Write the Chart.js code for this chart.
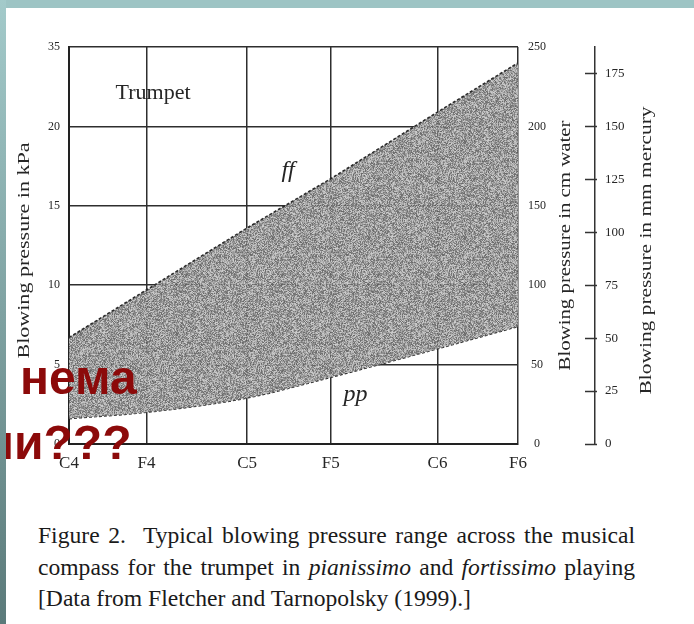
<!DOCTYPE html>
<html>
<head>
<meta charset="utf-8">
<script src="https://cdn.jsdelivr.net/npm/chart.js@4.4.1/dist/chart.umd.min.js"></script>
<style>
  html, body { margin: 0; padding: 0; background: #fff; }
  body { width: 694px; height: 624px; position: relative; overflow: hidden; }
  #wrap { position: absolute; left: 0; top: 0; width: 694px; height: 480px; }
  .topbar { position: absolute; left: 0; top: 0; width: 694px; height: 8px; background: #9dc4c4; }
  .leftbar { position: absolute; left: 0; top: 0; width: 6px; height: 624px; background: linear-gradient(#a3caca, #5b7a7a); }
  .cap { position: absolute; left: 38px; font-family: "Liberation Serif", serif; font-size: 23.6px; line-height: 24px; color: #1a1a1a; white-space: nowrap; }
  .red { position: absolute; font-family: "Liberation Sans", Arial, sans-serif; font-weight: bold; font-size: 48px; line-height: 48px; color: #8c0a0a; white-space: nowrap; }
</style>
</head>
<body>
<div id="wrap"><canvas id="grafico" width="694" height="480"></canvas></div>
<div class="cap just" style="top:523px">Figure 2.&nbsp; Typical blowing pressure range across the musical</div>
<div class="cap just" style="top:555px">compass for the trumpet in <i>pianissimo</i> and <i>fortissimo</i> playing</div>
<div class="cap" style="top:586px">[Data from Fletcher and Tarnopolsky (1999).]</div>
<div class="red" style="left:20px; top:354px">нема</div>
<div class="red" style="left:-15px; top:419px">ни???</div>
<div class="topbar"></div>
<div class="leftbar"></div>

<script>
// notas (posição em semitons acima de C4)
const noteNames = ['C4', 'F4', 'C5', 'F5', 'C6', 'F6'];
const notePos = [0, 5, 11.5, 16.9, 23.8, 29];

// pressão em kPa
const ffKPa = [6.7, 9.7, 13.6, 16.7, 20.9, 24.0];
const ppKPa = [1.6, 2.0, 2.9, 4.2, 6.0, 7.4];

// marcas dos eixos
const kPaTicks = [0, 5, 10, 15, 20, 25];
const kPaLabels = ['0', '5', '10', '15', '20', '35'];
const cmWaterTicks = [0, 50, 100, 150, 200, 250];
const mmHgTicks = [0, 25, 50, 75, 100, 125, 150, 175];

const serif = '"Liberation Serif", "Times New Roman", serif';
const ink = '#262626';

// justificar as linhas da legenda na largura da figura
document.querySelectorAll('.just').forEach(el => {
  const gaps = (el.textContent.match(/[ \u00a0]/g) || []).length;
  const sobra = 597 - el.getBoundingClientRect().width;
  el.style.wordSpacing = (sobra / gaps) + 'px';
});

// textura pontilhada do preenchimento
function criarTextura() {
  const n = 96;
  const c = document.createElement('canvas');
  c.width = n; c.height = n;
  const g = c.getContext('2d');
  const img = g.createImageData(n, n);
  for (let y = 0; y < n; y++) {
    for (let x = 0; x < n; x++) {
      let h = (x * 2654435761) ^ (y * 40503 + 0x9e3779b9);
      h = Math.imul(h ^ (h >>> 15), 0x85ebca6b);
      h = Math.imul(h ^ (h >>> 13), 0xc2b2ae35);
      h = (h ^ (h >>> 16)) >>> 0;
      const v = 95 + (h % 110);
      const i = (y * n + x) * 4;
      img.data[i] = img.data[i + 1] = img.data[i + 2] = v;
      img.data[i + 3] = 240;
    }
  }
  g.putImageData(img, 0, 0);
  return g.createPattern(c, 'repeat');
}

const anotacoes = [
  { text: 'Trumpet', x: 5.43, y: 22.1, font: '22px ' + serif },
  { text: 'ff', x: 14.15, y: 17.2, font: 'italic 24px ' + serif },
  { text: 'pp', x: 18.5, y: 3.1, font: 'italic 24px ' + serif }
];

// títulos verticais e marcas do eixo em mm de mercúrio
const extras = {
  id: 'extras',
  afterDraw(chart) {
    const ctx = chart.ctx;
    const { x, y, y2, y3 } = chart.scales;
    ctx.save();
    ctx.fillStyle = ink;
    ctx.textAlign = 'center';
    ctx.textBaseline = 'middle';
    anotacoes.forEach(a => {
      ctx.font = a.font;
      ctx.fillText(a.text, x.getPixelForValue(a.x), y.getPixelForValue(a.y));
    });

    function titulo(txt, cx, cy, len) {
      ctx.save();
      ctx.translate(cx, cy);
      ctx.rotate(-Math.PI / 2);
      ctx.font = '16px ' + serif;
      const w = ctx.measureText(txt).width;
      ctx.scale(len / w, 1);
      ctx.fillText(txt, 0, 0);
      ctx.restore();
    }
    const mid = (chart.chartArea.top + chart.chartArea.bottom) / 2;
    titulo('Blowing pressure in kPa', 25, mid + 5, 216);
    titulo('Blowing pressure in cm water', y2.right - 29, mid, 250);
    titulo('Blowing pressure in mm mercury', y3.left + 52, mid + 5, 288);

    ctx.strokeStyle = '#333';
    ctx.lineWidth = 1.5;
    y3.ticks.forEach(t => {
      const py = Math.round(y3.getPixelForValue(t.value)) + 0.5;
      ctx.beginPath();
      ctx.moveTo(y3.left - 10, py);
      ctx.lineTo(y3.left + 2, py);
      ctx.stroke();
    });
    ctx.restore();
  }
};

const ctx = document.getElementById('grafico').getContext('2d');
const textura = criarTextura();

new Chart(ctx, {
  type: 'line',
  data: {
    datasets: [
      {
        label: 'ff',
        data: notePos.map((p, i) => ({ x: p, y: ffKPa[i] })),
        borderColor: '#2b2b2b',
        borderWidth: 1.6,
        borderDash: [3, 2],
        pointRadius: 0,
        tension: 0,
        fill: '+1',
        backgroundColor: textura
      },
      {
        label: 'pp',
        data: notePos.map((p, i) => ({ x: p, y: ppKPa[i] })),
        borderColor: '#2b2b2b',
        borderWidth: 1.6,
        borderDash: [3, 2],
        pointRadius: 0,
        cubicInterpolationMode: 'monotone',
        fill: false
      }
    ]
  },
  options: {
    responsive: false,
    animation: false,
    devicePixelRatio: 1,
    layout: { padding: { top: 47, left: 0, right: 0, bottom: 0 } },
    plugins: { legend: { display: false }, tooltip: { enabled: false } },
    scales: {
      x: {
        type: 'linear', min: 0, max: 29,
        afterBuildTicks: s => { s.ticks = notePos.map(v => ({ value: v })); },
        afterFit: s => { s.height = 36; },
        ticks: {
          autoSkip: false, maxRotation: 0, padding: 9, color: ink,
          font: { family: serif, size: 17 },
          callback: (v, i) => noteNames[i]
        },
        grid: { color: '#2e2e2e', lineWidth: 1.5, drawTicks: false },
        border: { color: '#222', width: 2 }
      },
      y: {
        position: 'left', min: 0, max: 25,
        afterBuildTicks: s => { s.ticks = kPaTicks.map(v => ({ value: v })); },
        afterFit: s => { s.width = 69; },
        ticks: {
          padding: 9, color: ink, font: { family: serif, size: 12 },
          callback: (v, i) => kPaLabels[i]
        },
        grid: { color: '#2e2e2e', lineWidth: 1.5, drawTicks: false },
        border: { color: '#222', width: 2 }
      },
      y2: {
        position: 'right', min: 0, max: 250, weight: 0,
        afterBuildTicks: s => { s.ticks = cmWaterTicks.map(v => ({ value: v })); },
        afterFit: s => { s.width = 77; },
        ticks: { padding: 10, crossAlign: 'center', color: ink, font: { family: serif, size: 12 } },
        grid: { display: false, drawTicks: false },
        border: { display: false }
      },
      y3: {
        position: 'right', min: 0, max: 187.5, weight: 1,
        afterBuildTicks: s => { s.ticks = mmHgTicks.map(v => ({ value: v })); },
        afterFit: s => { s.width = 99; },
        ticks: { padding: 10, color: ink, font: { family: serif, size: 13 } },
        grid: { display: false, drawTicks: false },
        border: { display: true, color: '#333', width: 1.5 }
      }
    }
  },
  plugins: [extras]
});
</script>
</body>
</html>
